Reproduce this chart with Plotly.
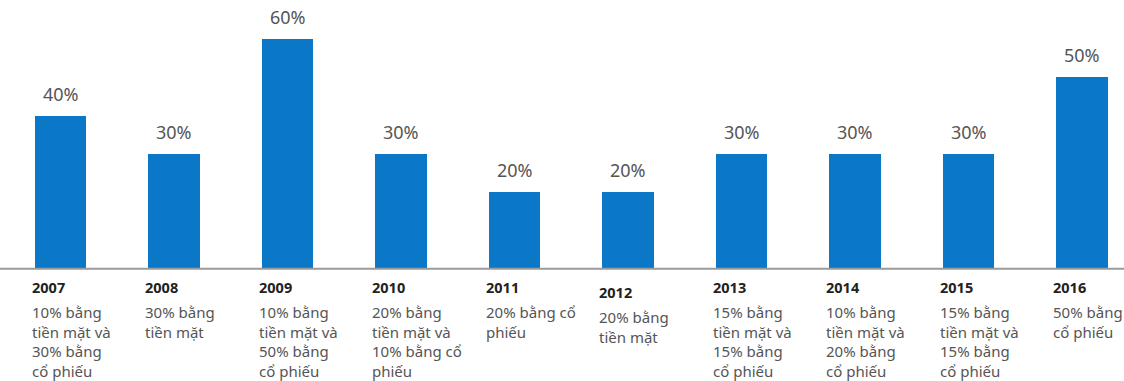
import plotly.graph_objects as go

years = [2007, 2008, 2009, 2010, 2011, 2012, 2013, 2014, 2015, 2016]
values = [40, 30, 60, 30, 20, 20, 30, 30, 30, 50]
value_labels = ["40%", "30%", "60%", "30%", "20%", "20%", "30%", "30%", "30%", "50%"]
descriptions = [
    "10% bằng<br>tiền mặt và<br>30% bằng<br>cổ phiếu",
    "30% bằng<br>tiền mặt",
    "10% bằng<br>tiền mặt và<br>50% bằng<br>cổ phiếu",
    "20% bằng<br>tiền mặt và<br>10% bằng cổ<br>phiếu",
    "20% bằng cổ<br>phiếu",
    "20% bằng<br>tiền mặt",
    "15% bằng<br>tiền mặt và<br>15% bằng<br>cổ phiếu",
    "10% bằng<br>tiền mặt và<br>20% bằng<br>cổ phiếu",
    "15% bằng<br>tiền mặt và<br>15% bằng<br>cổ phiếu",
    "50% bằng<br>cổ phiếu",
]
label_offsets = [0, 0, 0, 0, 0, 5, 0, 0, 0, 0]

BAR_W = 0.45
BLUE = "#0b77c7"
FONT = "Noto Sans"

fig = go.Figure()
fig.add_trace(go.Bar(x=years, y=values, width=BAR_W, marker=dict(color=BLUE, line=dict(width=0)),
                     hoverinfo="skip"))

ann = []
for yr, v, lab, d, off in zip(years, values, value_labels, descriptions, label_offsets):
    ann.append(dict(x=yr, y=v, xref="x", yref="y", text=lab, showarrow=False,
                    yanchor="bottom", yshift=8, font=dict(family=FONT, size=18, color="#555555")))
    ann.append(dict(x=yr - BAR_W / 2, y=0, xref="x", yref="y", text="<b>%d</b>" % yr, showarrow=False,
                    xanchor="left", yanchor="top", xshift=-5, yshift=-6 - off, align="left",
                    font=dict(family=FONT, size=14.5, color="#222222")))
    ann.append(dict(x=yr - BAR_W / 2, y=0, xref="x", yref="y", text=d, showarrow=False,
                    xanchor="left", yanchor="top", xshift=-5, yshift=-31 - off, align="left",
                    font=dict(family=FONT, size=15, color="#555555")))

fig.update_layout(
    width=1124, height=381,
    margin=dict(l=0, r=0, t=0, b=0),
    paper_bgcolor="white", plot_bgcolor="white",
    showlegend=False,
    bargap=0,
    xaxis=dict(range=[2007 - 0.533, 2016 + 0.370], visible=False, fixedrange=True),
    yaxis=dict(range=[-29.3, 70.2], visible=False, fixedrange=True),
    annotations=ann,
    shapes=[dict(type="line", xref="paper", x0=0, x1=1, yref="y", y0=0, y1=0,
                 line=dict(color="#9a9a9a", width=2))],
)

fig.write_html("out.html")
